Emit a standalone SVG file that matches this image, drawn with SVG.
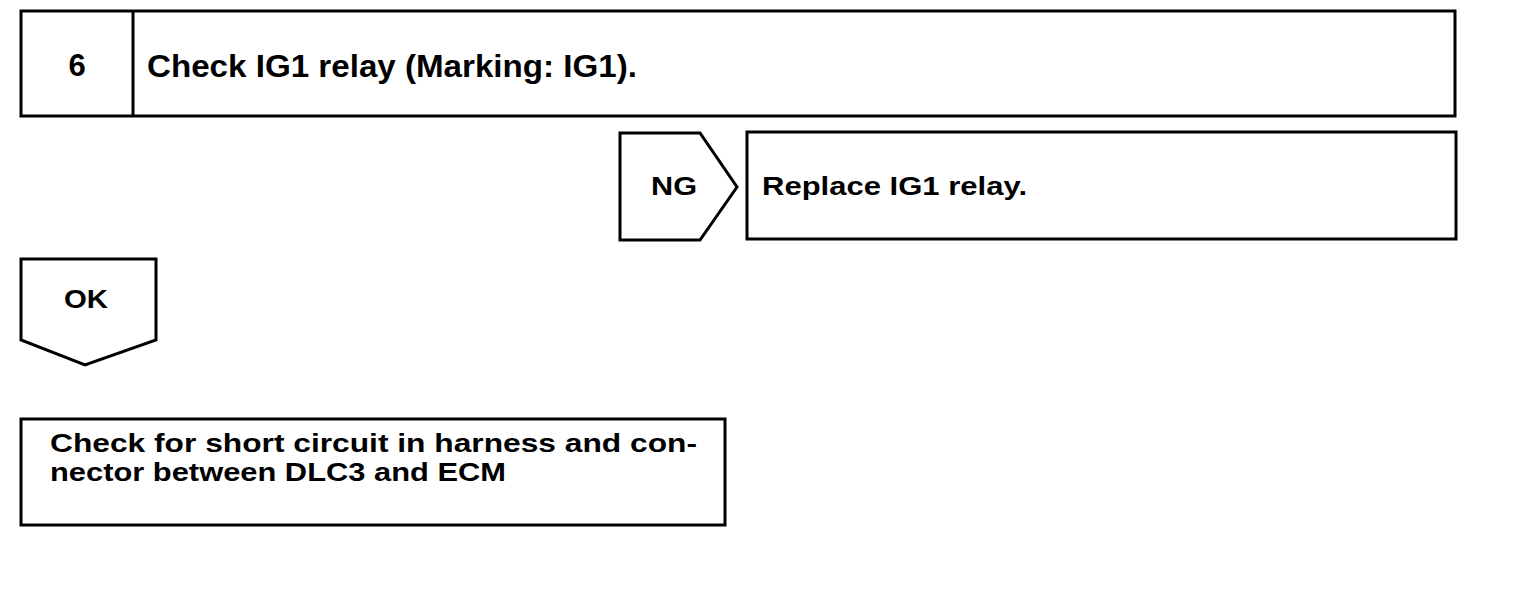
<svg xmlns="http://www.w3.org/2000/svg" width="1520" height="616" viewBox="0 0 1520 616">
<style>
.b{fill:#fff;stroke:#000;stroke-width:3;stroke-linejoin:miter}
.t{font-family:"Liberation Sans",Arial,sans-serif;font-weight:bold;font-size:26px;fill:#000}
.h{font-size:31px}
</style>
<rect width="1520" height="616" fill="#fff"/>
<g id="step6">
<rect class="b" x="21" y="11" width="1434" height="105"/>
<line x1="133" y1="11" x2="133" y2="116" stroke="#000" stroke-width="3"/>
<text class="t h" x="77" y="76" text-anchor="middle">6</text>
<text class="t h" x="147" y="77" textLength="490" lengthAdjust="spacingAndGlyphs">Check IG1 relay (Marking: IG1).</text>
</g>
<g id="ng">
<polygon class="b" points="620,133 700,133 737,187 700,240 620,240"/>
<text class="t" x="651" y="195" textLength="46" lengthAdjust="spacingAndGlyphs">NG</text>
</g>
<g id="replace">
<rect class="b" x="747" y="132" width="709" height="107"/>
<text class="t" x="762" y="195" textLength="265" lengthAdjust="spacingAndGlyphs">Replace IG1 relay.</text>
</g>
<g id="ok">
<polygon class="b" points="21,259 156,259 156,340 85,365 21,340"/>
<text class="t" x="64" y="308" font-size="23" textLength="44" lengthAdjust="spacingAndGlyphs">OK</text>
</g>
<g id="check-short">
<rect class="b" x="21" y="419" width="704" height="106"/>
<text class="t" x="50" y="452" textLength="647" lengthAdjust="spacingAndGlyphs">Check for short circuit in harness and con-</text>
<text class="t" x="50" y="481" textLength="456" lengthAdjust="spacingAndGlyphs">nector between DLC3 and ECM</text>
</g>
<g id="connectors"></g>
</svg>
